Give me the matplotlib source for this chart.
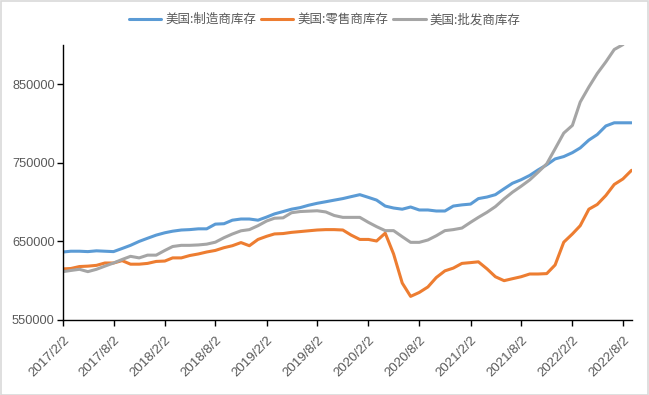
import numpy as np
import pandas as pd
import matplotlib
matplotlib.use("Agg")
import matplotlib.pyplot as plt
from matplotlib.patches import Rectangle

plt.rcParams["font.family"] = ["Liberation Sans", "Noto Sans CJK SC", "DejaVu Sans"]

# ---- data (monthly, 2017/2 .. 2022/9) ---------------------------------------
dates = pd.date_range("2017-02-02", periods=68, freq=pd.DateOffset(months=1))

manufacturing = [
    636500, 637500, 637500, 637000, 638000, 637500, 637000, 641000, 645000, 650000,
    654000, 658000, 661000, 663000, 664500, 665000, 666000, 666000, 672000, 672500,
    677000, 678500, 678500, 677000, 681000, 685000, 688000, 691000, 693000, 696000,
    698500, 700500, 702500, 704500, 707000, 709500, 706000, 702600, 695000, 692500,
    691000, 693800, 690000, 690000, 688700, 688700, 695000, 696500, 697500, 704500,
    706500, 709500, 717000, 724000, 728500, 734000, 741000, 747500, 755000, 758000,
    763000, 769000, 779000, 786000, 797000, 801000, 801000, 801000,
]
retail = [
    615000, 615500, 618000, 618500, 619500, 622500, 622500, 625500, 621000, 621000,
    622000, 624500, 625000, 629000, 629000, 632000, 634000, 636500, 638500, 642000,
    644500, 648500, 644500, 652500, 656500, 659500, 660000, 661500, 662500, 663500,
    664500, 665000, 665000, 664500, 658000, 652500, 652500, 650500, 660500, 634000,
    597000, 580000, 585000, 592000, 604000, 612500, 616000, 622000, 623000, 624000,
    615000, 605000, 600000, 602500, 605000, 608500, 608500, 609000, 620000, 649000,
    659500, 670000, 691000, 697000, 708500, 722500, 729500, 740500,
]
wholesale = [
    611500, 613000, 614500, 611500, 614500, 618500, 622500, 627000, 631000, 629000,
    632500, 632500, 638500, 643500, 645000, 645000, 645500, 646500, 649000, 654700,
    659400, 663500, 665000, 670000, 676000, 679500, 680000, 686500, 688000, 688500,
    689000, 687500, 683000, 680600, 680600, 680600, 674200, 668800, 663700, 663700,
    656000, 648800, 648800, 651800, 657200, 663700, 665000, 667000, 674300, 680600,
    687100, 694300, 704100, 712600, 720200, 728300, 738100, 748800, 767900, 787900,
    797700, 827400, 846600, 863700, 878600, 894300, 900500, 915000,
]

series = [
    ("美国:制造商库存", manufacturing, "#5B9BD5"),
    ("美国:零售商库存", retail, "#ED7D31"),
    ("美国:批发商库存", wholesale, "#A5A5A5"),
]
yticks = [550000, 650000, 750000, 850000]

# ---- figure -------------------------------------------------------------------
fig = plt.figure(figsize=(6.49, 3.95), dpi=100)
fig.patches.append(Rectangle((0.001, 0.001), 0.997, 0.997, transform=fig.transFigure,
                             fill=False, edgecolor="#d9d9d9", linewidth=1.2))
ax = fig.add_axes([0.0971, 0.190, 0.876, 0.696])

for name, vals, color in series:
    ax.plot(dates, vals, color=color, lw=2.2, label=name, solid_capstyle="round")

ax.set_ylim(550000, 900000)
ax.set_xlim(dates[0], dates[-1])
ax.set_yticks(yticks)
ax.set_yticklabels([str(v) for v in yticks])
xt = dates[::6]
ax.set_xticks(xt)
ax.set_xticklabels([f"{d.year}/{d.month}/{d.day}" for d in xt], rotation=45,
                   ha="right", rotation_mode="anchor")

for s in ["top", "right"]:
    ax.spines[s].set_visible(False)
for s in ["left", "bottom"]:
    ax.spines[s].set_color("black")
    ax.spines[s].set_linewidth(1.0)
ax.tick_params(axis="both", direction="out", length=4, width=1, color="black",
               labelcolor="#595959")
ax.tick_params(axis="y", pad=2, labelsize=9.2)
ax.tick_params(axis="x", pad=6, labelsize=9.5)

fig.legend(loc="upper center", bbox_to_anchor=(0.5, 0.995), ncol=3, frameon=False,
           handlelength=2.6, handletextpad=0.3, columnspacing=0.4,
           prop={"family": ["Noto Sans CJK SC"], "size": 9}, labelcolor="#595959")

fig.savefig("out.png", dpi=100)
